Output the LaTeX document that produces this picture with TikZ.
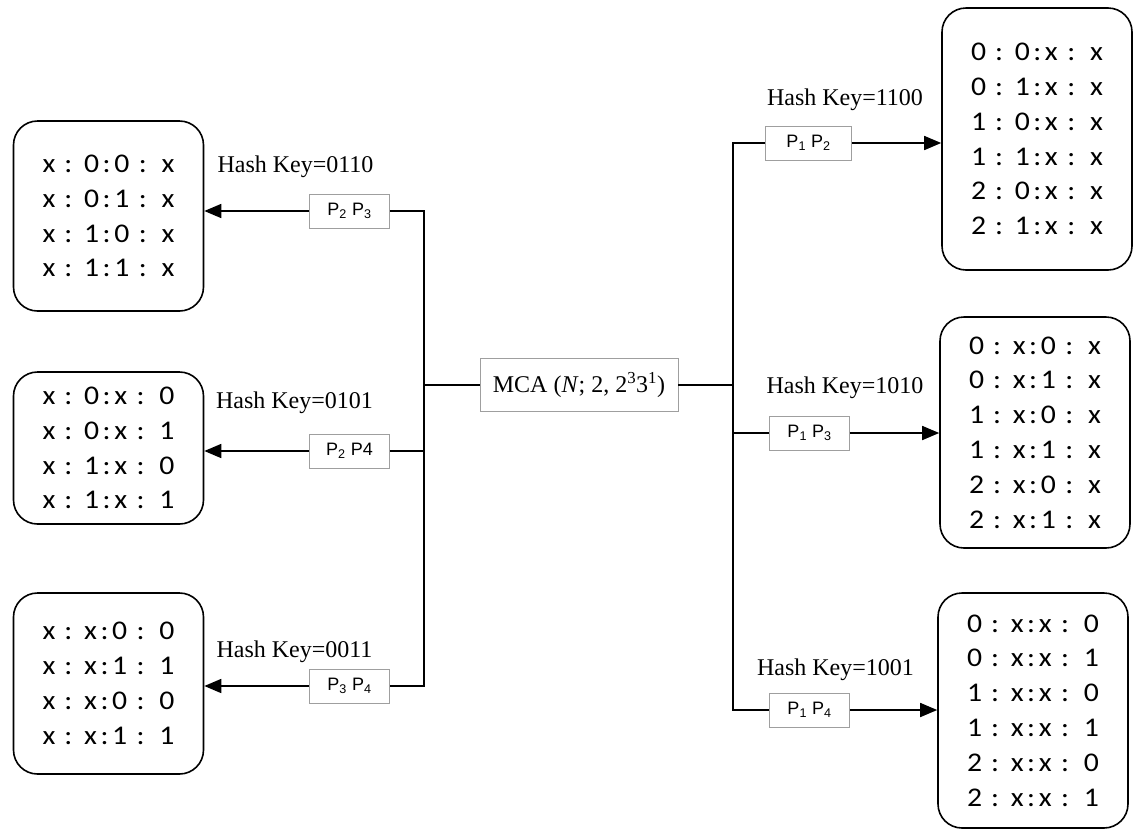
\documentclass[tikz,border=0pt]{standalone}
\usepackage{fontspec}
\usepackage{graphicx}
\setmainfont{Liberation Serif}
\newfontfamily\boxfont{Carlito}
\newfontfamily\labfont{Liberation Sans}
\usetikzlibrary{arrows.meta}

% one row of a table: four cells separated by colons, set a little wide
\newcommand\rowcells[4]{\scalebox{1.1}[1]{#1\hspace{0.3em}:\hspace{0.4em}#2\hspace{0.12em}:\hspace{0.12em}#3\hspace{0.32em}:\hspace{0.5em}#4}}

\tikzset{
  tbl/.style={draw=black, line width=1.6pt, rounded corners=24pt, align=center,
    font=\boxfont\fontsize{27}{34.8}\selectfont, inner sep=0pt, minimum width=190pt},
  hash/.style={font=\fontsize{24}{28}\selectfont, inner sep=0pt},
  pbox/.style={draw=gray!75, line width=0.9pt, font=\labfont\fontsize{18}{20}\selectfont,
    minimum width=80pt, minimum height=34pt, inner sep=0pt, fill=white},
  mcabox/.style={draw=gray!75, line width=0.9pt, font=\fontsize{24}{28}\selectfont,
    minimum width=198pt, minimum height=53pt, inner sep=0pt, fill=white},
  wire/.style={line width=1.6pt},
  arr/.style={wire, -{Triangle[length=17pt,width=14pt]}}
}

\begin{document}
\begin{tikzpicture}[x=1pt,y=-1pt]
\useasboundingbox (0,0) rectangle (1137,831);
\fill[white] (0,0) rectangle (1137,831);

% central array
\node[mcabox] (MCA) at (579,385) {MCA (\textit{N}; 2, 2\textsuperscript{3}3\textsuperscript{1})};

% left tables
\node[tbl, minimum height=190pt] (L1) at (108.5,216) {\rowcells{x}{0}{0}{x}\\\rowcells{x}{0}{1}{x}\\\rowcells{x}{1}{0}{x}\\\rowcells{x}{1}{1}{x}};
\node[tbl, minimum height=152pt] (L2) at (108.5,448) {\rowcells{x}{0}{x}{0}\\\rowcells{x}{0}{x}{1}\\\rowcells{x}{1}{x}{0}\\\rowcells{x}{1}{x}{1}};
\node[tbl, minimum height=181pt] (L3) at (108.5,683.5) {\rowcells{x}{x}{0}{0}\\\rowcells{x}{x}{1}{1}\\\rowcells{x}{x}{0}{0}\\\rowcells{x}{x}{1}{1}};

% right tables
\node[tbl, minimum height=262pt] (R1) at (1037,139) {\rowcells{0}{0}{x}{x}\\\rowcells{0}{1}{x}{x}\\\rowcells{1}{0}{x}{x}\\\rowcells{1}{1}{x}{x}\\\rowcells{2}{0}{x}{x}\\\rowcells{2}{1}{x}{x}};
\node[tbl, minimum height=231pt] (R2) at (1035,432.5) {\rowcells{0}{x}{0}{x}\\\rowcells{0}{x}{1}{x}\\\rowcells{1}{x}{0}{x}\\\rowcells{1}{x}{1}{x}\\\rowcells{2}{x}{0}{x}\\\rowcells{2}{x}{1}{x}};
\node[tbl, minimum height=235pt] (R3) at (1033,710.5) {\rowcells{0}{x}{x}{0}\\\rowcells{0}{x}{x}{1}\\\rowcells{1}{x}{x}{0}\\\rowcells{1}{x}{x}{1}\\\rowcells{2}{x}{x}{0}\\\rowcells{2}{x}{x}{1}};

% parameter pairs
\node[pbox] (P23) at (349.5,211) {P\textsubscript{2} P\textsubscript{3}};
\node[pbox] (P24) at (349.5,451) {P\textsubscript{2} P4};
\node[pbox] (P34) at (349.5,686) {P\textsubscript{3} P\textsubscript{4}};
\node[pbox, minimum width=86pt] (P12) at (808.5,143) {P\textsubscript{1} P\textsubscript{2}};
\node[pbox] (P13) at (809.5,433) {P\textsubscript{1} P\textsubscript{3}};
\node[pbox] (P14) at (809.5,710) {P\textsubscript{1} P\textsubscript{4}};

% hash keys
\node[hash] (H0110) at (295.5,167) {Hash Key=0110};
\node[hash] (H0101) at (294.5,403) {Hash Key=0101};
\node[hash] (H0011) at (294.5,652) {Hash Key=0011};
\node[hash] (H1100) at (845,100) {Hash Key=1100};
\node[hash] (H1010) at (845,388) {Hash Key=1010};
\node[hash] (H1001) at (835.5,670) {Hash Key=1001};

% left bus
\coordinate (lt) at (424,211);
\coordinate (lb) at (424,686);
\draw[wire] (P23.east) -- (lt) -- (lb) -- (P34.east);
\draw[wire] (P24.east) -- (P24.east -| lt);
\draw[wire] (MCA.west) -- (MCA.west -| lt);
\draw[arr] (P23.west) -- (P23.west -| L1.east);
\draw[arr] (P24.west) -- (P24.west -| L2.east);
\draw[arr] (P34.west) -- (P34.west -| L3.east);

% right bus
\coordinate (rt) at (733,143);
\coordinate (rb) at (733,710);
\draw[wire] (P12.west) -- (rt) -- (rb) -- (P14.west);
\draw[wire] (P13.west) -- (P13.west -| rt);
\draw[wire] (MCA.east) -- (MCA.east -| rt);
\draw[arr] (P12.east) -- (P12.east -| R1.west);
\draw[arr] (P13.east) -- (P13.east -| R2.west);
\draw[arr] (P14.east) -- (P14.east -| R3.west);
\end{tikzpicture}
\end{document}
